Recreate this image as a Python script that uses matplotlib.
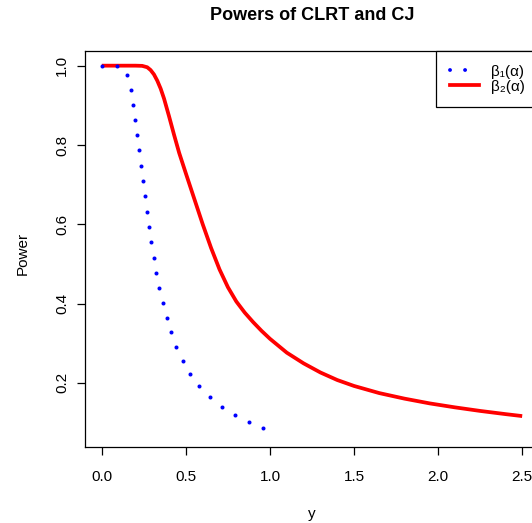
import matplotlib
matplotlib.use("Agg")
import matplotlib.pyplot as plt
from matplotlib.lines import Line2D

plt.rcParams['font.family'] = ['Liberation Sans', 'DejaVu Sans']

# beta_1(alpha): blue dotted curve, one entry per dot seen in the picture
beta1_y_vals = [0, 0.093, 0.152, 0.172, 0.186, 0.200, 0.210, 0.222, 0.234,
                0.246, 0.256, 0.267, 0.279, 0.293, 0.309, 0.325, 0.343, 0.363, 0.386,
                0.412, 0.444, 0.481, 0.527, 0.580, 0.644, 0.717, 0.795, 0.878, 0.959]
beta1_power = [1.0, 1.0, 0.977, 0.939, 0.900, 0.862, 0.824, 0.786, 0.747,
               0.708, 0.670, 0.631, 0.592, 0.554, 0.516, 0.478, 0.440, 0.402, 0.364,
               0.327, 0.291, 0.256, 0.222, 0.191, 0.163, 0.139, 0.119, 0.102, 0.085]

# beta_2(alpha): solid red curve
beta2_y_vals = [0, 0.20, 0.24, 0.27, 0.29, 0.31, 0.33, 0.35, 0.37, 0.40,
                0.43, 0.46, 0.50, 0.55, 0.60, 0.65, 0.70, 0.75, 0.80, 0.85,
                0.90, 0.95, 1.00, 1.10, 1.20, 1.30, 1.40, 1.50, 1.65, 1.80,
                1.95, 2.10, 2.25, 2.40, 2.50]
beta2_power = [1.0, 1.0, 0.9995, 0.996, 0.989, 0.978, 0.962, 0.942, 0.917, 0.872,
               0.825, 0.780, 0.728, 0.664, 0.600, 0.540, 0.486, 0.441, 0.405, 0.377,
               0.353, 0.331, 0.311, 0.276, 0.249, 0.226, 0.207, 0.192, 0.174, 0.160,
               0.148, 0.138, 0.129, 0.121, 0.116]

x_ticks = [0.0, 0.5, 1.0, 1.5, 2.0, 2.5]
y_ticks = [0.2, 0.4, 0.6, 0.8, 1.0]

W, H = 532, 523
fig = plt.figure(figsize=(W / 100, H / 100), dpi=100)
# plot box runs past the right edge, as in the original
ax = fig.add_axes([85 / W, (H - 447) / H, (539 - 85) / W, (447 - 51) / H])

ax.plot(beta2_y_vals, beta2_power, color='red', lw=2.7,
        solid_capstyle='butt', solid_joinstyle='round', zorder=2)
ax.plot(beta1_y_vals, beta1_power, 'o', color='blue', markersize=2.9,
        markeredgewidth=0, zorder=3)

ax.set_xlim(-0.1, 2.6)
ax.set_ylim(0.038, 1.037)
ax.set_xticks(x_ticks)
ax.set_xticklabels([f'{t:.1f}' for t in x_ticks])
ax.set_yticks(y_ticks)
ax.set_yticklabels([f'{t:.1f}' for t in y_ticks], rotation=90, va='center')

for sp in ax.spines.values():
    sp.set_linewidth(0.9)
ax.tick_params(direction='out', length=5.8, width=0.9, labelsize=11)
ax.tick_params(axis='x', pad=10.5)
ax.tick_params(axis='y', pad=5.5)

handles = [
    Line2D([], [], color='blue', lw=2.8, linestyle=(0, (0.01, 3.86)),
           dash_capstyle='round'),
    Line2D([], [], color='red', lw=2.7),
]
leg = ax.legend(handles, ['β₁(α)', 'β₂(α)'], loc='upper right',
                borderaxespad=0, fancybox=False, edgecolor='black',
                framealpha=1, fontsize=11, handlelength=1.9,
                handletextpad=0.8, borderpad=0.9, labelspacing=0.05)
leg.get_frame().set_linewidth(0.9)

fig.text(312 / W, 1 - 19.5 / H, 'Powers of CLRT and CJ', ha='center',
         va='baseline', fontsize=13, fontweight='bold')
fig.text(312 / W, 1 - 518 / H, 'y', ha='center', va='baseline', fontsize=11)
fig.text(23 / W, 1 - 253 / H, 'Power', ha='center', va='center',
         rotation=90, fontsize=11)

fig.savefig('out.png', dpi=100)
